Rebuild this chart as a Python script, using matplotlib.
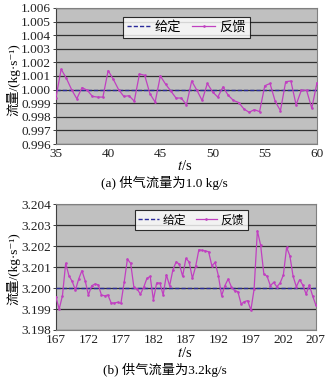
import matplotlib
matplotlib.use("Agg")
import matplotlib.pyplot as plt
import numpy as np

plt.rcParams['font.family'] = ['Liberation Serif', 'Noto Sans CJK SC', 'DejaVu Serif']
plt.rcParams['mathtext.fontset'] = 'stix'

# (a) 1.0 kg/s, t = 35..60 s every 0.5 s
t_a = np.arange(35, 60.01, 0.5)
set_a = [1.0] * len(t_a)
fb_a = [0.9994, 1.0015, 1.00083, 1.0000, 0.99933, 1.00015, 0.99995, 0.9995, 0.99945, 0.99945,
        1.0014, 1.00075, 1.0000, 0.9995, 0.99955, 0.99915, 1.00115, 1.00105, 0.9997, 0.99908,
        1.0010, 1.0004, 0.9999, 0.99938, 0.99938, 0.99888, 1.00063, 0.99995, 0.9992, 1.00045,
        0.99983, 0.99945, 1.0002, 0.99958, 0.9992, 0.99905, 0.99858, 0.99833, 0.99853, 0.99838,
        1.00028, 1.00045, 0.99913, 0.99845, 1.00058, 1.00063, 0.99888, 0.99995, 0.99995, 0.99863,
        1.0005]

# (b) 3.2 kg/s, t = 167..207 s every 0.5 s
t_b = np.arange(167, 207.01, 0.5)
set_b = [3.2] * len(t_b)
fb_b = [3.19956, 3.1990, 3.19963, 3.20118, 3.20059, 3.20032, 3.1999, 3.20043, 3.20083, 3.20035,
        3.19967, 3.20011, 3.20019, 3.20016, 3.19967, 3.19963, 3.19967, 3.19929, 3.19929, 3.19932,
        3.19927, 3.20027, 3.20138, 3.20118, 3.20003, 3.19995, 3.19971, 3.20003, 3.20046, 3.20056,
        3.19944, 3.20024, 3.20024, 3.19967, 3.20063, 3.20011, 3.20087, 3.20125, 3.20114, 3.20056,
        3.20141, 3.20125, 3.20046, 3.20103, 3.20183, 3.2018, 3.20177, 3.20173, 3.20106, 3.20122,
        3.20059, 3.19963, 3.20011, 3.20043, 3.20006, 3.19987, 3.19983, 3.19924, 3.19935, 3.1994,
        3.19895, 3.19995, 3.20273, 3.20205, 3.20067, 3.20056, 3.20011, 3.20027, 3.20006, 3.20024,
        3.20062, 3.20194, 3.20154, 3.20056, 3.20006, 3.2004, 3.20014, 3.19971, 3.20014, 3.19963,
        3.19919]

fig = plt.figure(figsize=(3.29, 3.79), dpi=100)
ax1 = fig.add_axes([0.170, 0.620, 0.7935, 0.359])
ax2 = fig.add_axes([0.170, 0.1293, 0.790, 0.332])

def style(ax, t, s, f, xticks, yticks, ylim, legpos, legsize):
    ax.set_facecolor('#c0c0c0')
    for y in yticks:
        ax.axhline(y, color='#303030', lw=0.9, zorder=1)
    ax.plot(t, s, color='#2a2a9a', lw=1.0, ls=(0, (3, 1.5)), label='给定', zorder=3)
    ax.plot(t, f, color='#c040c0', lw=0.9, marker='.', ms=1.8, label='反馈', zorder=4)
    ax.set_xlim(t[0], t[-1])
    ax.set_ylim(*ylim)
    ax.set_xticks(xticks)
    ax.set_yticks(yticks)
    ax.set_yticklabels(['%.3f' % y for y in yticks])
    ax.tick_params(labelsize=9.5, length=2.5, width=0.6, pad=1, colors='#202020')
    ax.tick_params(axis='x', length=0, pad=3)
    for sp in ax.spines.values():
        sp.set_color('#808080')
        sp.set_linewidth(0.8)
    ax.spines['left'].set_color('#404040')
    leg = ax.legend(loc='upper center', bbox_to_anchor=legpos, ncol=2,
                    frameon=True, fancybox=False, handlelength=1.8, handletextpad=0.3,
                    columnspacing=0.8, borderpad=0.3,
                    prop={'family': ['Noto Sans CJK SC'], 'size': legsize})
    leg.get_frame().set_edgecolor('black')
    leg.get_frame().set_linewidth(0.8)
    leg.get_frame().set_facecolor('white')

style(ax1, t_a, set_a, fb_a, np.arange(35, 61, 5), np.round(np.arange(0.996, 1.00601, 0.001), 3),
      (0.996, 1.006), (0.5, 0.985), 9.5)
style(ax2, t_b, set_b, fb_b, np.arange(167, 208, 5), np.round(np.arange(3.198, 3.20401, 0.001), 3),
      (3.198, 3.204), (0.52, 1.0), 8.5)

ylab = '流量/(kg·s⁻¹)'
fig.text(0.040, 0.79, ylab, rotation=90, ha='center', va='center', fontsize=9.5)
fig.text(0.040, 0.29, ylab, rotation=90, ha='center', va='center', fontsize=9.5)
fig.text(0.56, 0.562, r'$t$/s', ha='center', va='center', fontsize=10.5)
fig.text(0.56, 0.068, r'$t$/s', ha='center', va='center', fontsize=10.5)
fig.text(0.50, 0.518, '(a) 供气流量为1.0 kg/s', ha='center', va='center', fontsize=9.5)
fig.text(0.50, 0.024, '(b) 供气流量为3.2kg/s', ha='center', va='center', fontsize=9.5)

fig.savefig('out.png', dpi=100)
